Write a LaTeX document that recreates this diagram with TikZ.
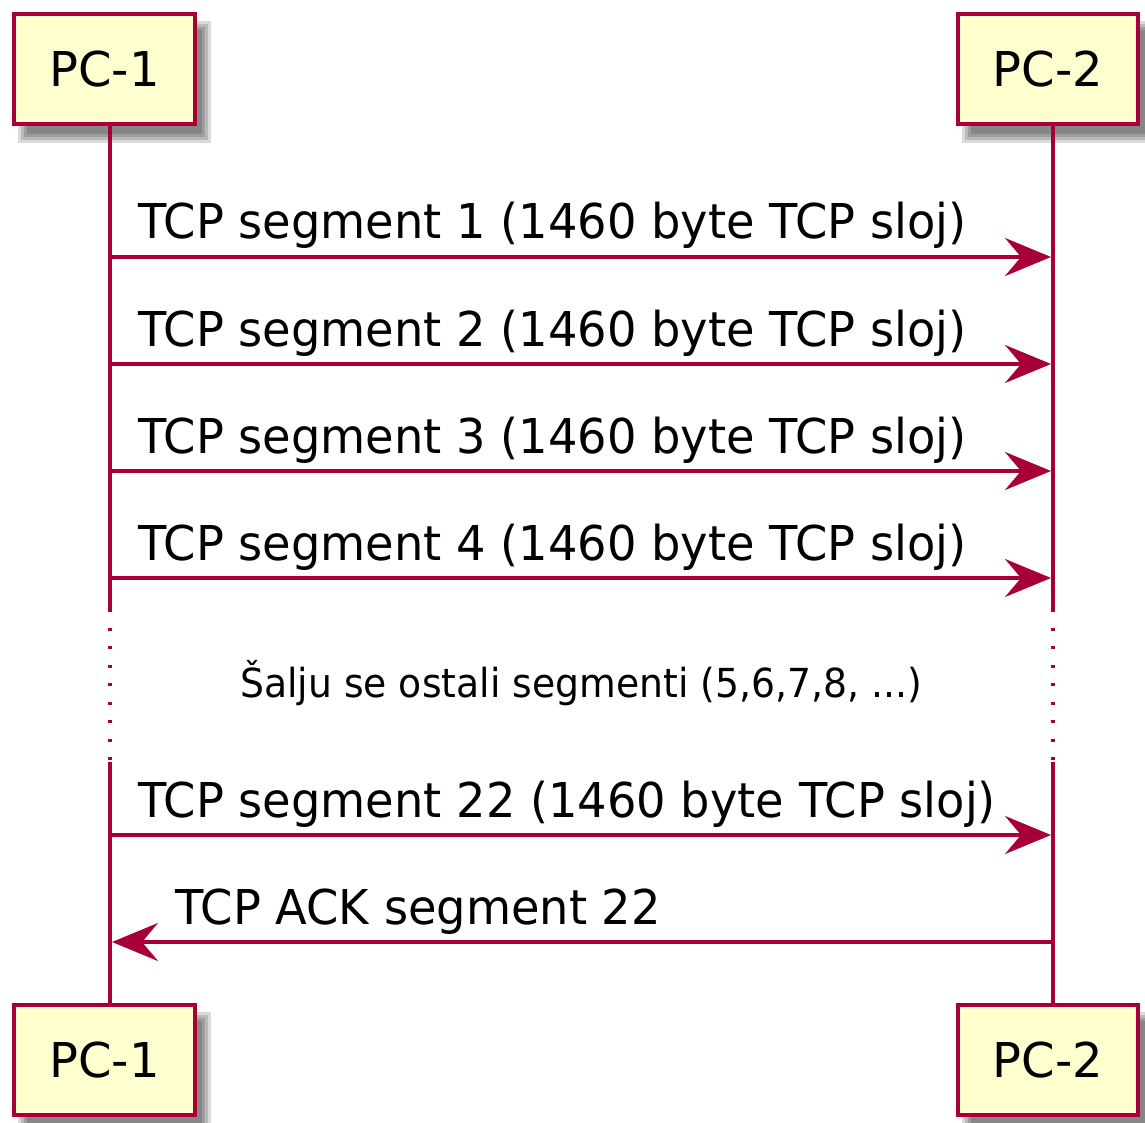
\documentclass[tikz,border=0pt]{standalone}
\usepackage{fontspec}
\usepackage{graphicx}
\setmainfont{DejaVu Sans}
\usetikzlibrary{arrows.meta}
\definecolor{umlred}{HTML}{A80036}
\definecolor{umlfill}{HTML}{FEFECE}
\newcommand\partfont{\fontsize{48}{56}\selectfont}
\newcommand\msgfont{\fontsize{48}{56}\selectfont}
\newcommand\delayfont{\fontsize{40}{48}\selectfont}
\newcommand\msgsq[1]{\scalebox{0.965}[1]{#1}}
\newcommand\delaysq[1]{\scalebox{0.943}[1]{#1}}
\newcommand\boxshadow[4]{%
  \foreach \e in {6,3,0,-3}{%
    \fill[black, opacity=0.15] (#1+10-\e, #2+13-\e) rectangle (#3+10+\e, #4+13+\e);}}
\begin{document}
\begin{tikzpicture}[x=1pt,y=-1pt,
  part/.style={draw=umlred, fill=umlfill, line width=4.5pt, minimum width=181pt,
    minimum height=110pt, inner sep=0pt, font=\partfont},
  life/.style={draw=umlred, line width=3.3pt},
  lifedot/.style={draw=umlred, line width=3.3pt, dash pattern=on 3.3pt off 15.2pt},
  msg/.style={draw=umlred, line width=3.3pt, shorten >=2pt,
    -{Stealth[length=46pt, width=38pt, inset=16pt, umlred]}},
  msgtext/.style={inner sep=0pt, font=\msgfont, anchor=base west, text=black},
  delaytext/.style={inner sep=0pt, font=\delayfont, anchor=base, text=black}
]
\useasboundingbox (0,0) rectangle (1145,1123);

% shadows
\boxshadow{14}{14}{195}{124}
\boxshadow{958}{14}{1138}{124}
\boxshadow{14}{1005}{195}{1115}
\boxshadow{958}{1005}{1138}{1115}

% lifeline coordinates
\coordinate (l1a) at (110,124);
\coordinate (l1b) at (110,612);
\coordinate (l1c) at (110,627.5);
\coordinate (l1d) at (110,762);
\coordinate (l1e) at (110,762);
\coordinate (l1f) at (110,1005);
\coordinate (l2a) at (1053,124);
\coordinate (l2b) at (1053,612);
\coordinate (l2c) at (1053,627.5);
\coordinate (l2d) at (1053,762);
\coordinate (l2e) at (1053,762);
\coordinate (l2f) at (1053,1005);

\draw[life] (l1a) -- (l1b);
\draw[lifedot] (l1c) -- (l1d);
\draw[life] (l1e) -- (l1f);
\draw[life] (l2a) -- (l2b);
\draw[lifedot] (l2c) -- (l2d);
\draw[life] (l2e) -- (l2f);

% participants
\node[part] (p1top) at (104.5,69) {PC-1};
\node[part, minimum width=180pt] (p2top) at (1048,69) {PC-2};
\node[part] (p1bot) at (104.5,1060) {PC-1};
\node[part, minimum width=180pt] (p2bot) at (1048,1060) {PC-2};

% messages
\foreach \i/\y in {1/257,2/364,3/471,4/578,5/835,6/942}{
  \coordinate (m\i a) at (110,\y);
  \coordinate (m\i b) at (1053,\y);
}
\draw[msg] (m1a) -- (m1b);
\draw[msg] (m2a) -- (m2b);
\draw[msg] (m3a) -- (m3b);
\draw[msg] (m4a) -- (m4b);
\draw[msg] (m5a) -- (m5b);
\draw[msg] (m6b) -- (m6a);

\node[msgtext] (t1) at (138,239) {\msgsq{TCP segment 1 (1460 byte TCP sloj)}};
\node[msgtext] (t2) at (138,346) {\msgsq{TCP segment 2 (1460 byte TCP sloj)}};
\node[msgtext] (t3) at (138,453) {\msgsq{TCP segment 3 (1460 byte TCP sloj)}};
\node[msgtext] (t4) at (138,560) {\msgsq{TCP segment 4 (1460 byte TCP sloj)}};
\node[msgtext] (t5) at (138,817) {\msgsq{TCP segment 22 (1460 byte TCP sloj)}};
\node[msgtext] (t6) at (175,924) {\msgsq{TCP ACK segment 22}};

\node[delaytext] (dl) at (581,697) {\delaysq{Šalju se ostali segmenti (5,6,7,8, ...)}};
\end{tikzpicture}
\end{document}
